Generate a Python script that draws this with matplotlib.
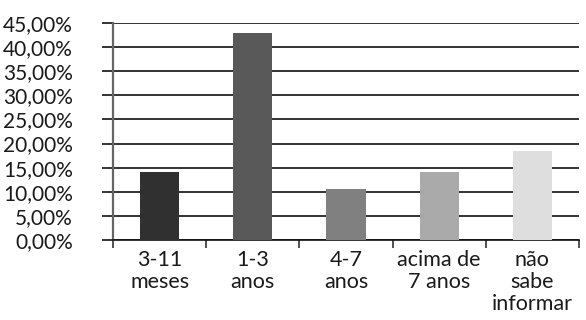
#!/usr/bin/env python3
"""Bar chart: distribution of responses by age bracket."""

import matplotlib

matplotlib.use("Agg")
import matplotlib.pyplot as plt
from matplotlib.ticker import FixedLocator, FuncFormatter

categories = ["3-11\nmeses", "1-3\nanos", "4-7\nanos", "acima de\n7 anos", "não\nsabe\ninformar"]
values = [14.04, 42.98, 10.53, 14.04, 18.42]
bar_colors = ["#303030", "#595959", "#808080", "#aaaaaa", "#dedede"]
y_ticks = [0, 5, 10, 15, 20, 25, 30, 35, 40, 45]

plt.rcParams["font.family"] = ["Lato", "DejaVu Sans"]

fig = plt.figure(figsize=(5.86, 3.20), dpi=100)
ax = fig.add_axes([113 / 586, 1 - 240 / 320, 466 / 586, 217 / 320])

x = list(range(len(categories)))
ax.bar(x, values, width=0.42, color=bar_colors, zorder=3)

ax.set_xlim(-0.5, len(categories) - 0.5)
ax.set_ylim(0, 45)

# horizontal gridlines at each major tick
ax.set_yticks(y_ticks)
ax.yaxis.set_major_formatter(FuncFormatter(lambda v, _: f"{v:.2f}%".replace(".", ",")))
ax.grid(axis="y", color="#111111", lw=1.2, zorder=1)
ax.tick_params(axis="y", length=8, width=1.2, color="#111111", pad=21,
               labelsize=15, labelcolor="#1a1a1a")

# category labels centred, ticks on the boundaries between categories
ax.set_xticks(x)
ax.set_xticklabels(categories, fontsize=15.5, linespacing=1.12, color="#1a1a1a")
ax.xaxis.set_minor_locator(FixedLocator([i - 0.5 for i in range(len(categories) + 1)]))
ax.tick_params(axis="x", which="major", length=0, pad=7)
ax.tick_params(axis="x", which="minor", length=6, width=1.2, color="#333333")

for side in ("top", "right"):
    ax.spines[side].set_visible(False)
ax.spines["left"].set_color("#666666")
ax.spines["left"].set_linewidth(1.6)
ax.spines["bottom"].set_color("#111111")
ax.spines["bottom"].set_linewidth(1.2)

fig.savefig("out.png", dpi=100)
